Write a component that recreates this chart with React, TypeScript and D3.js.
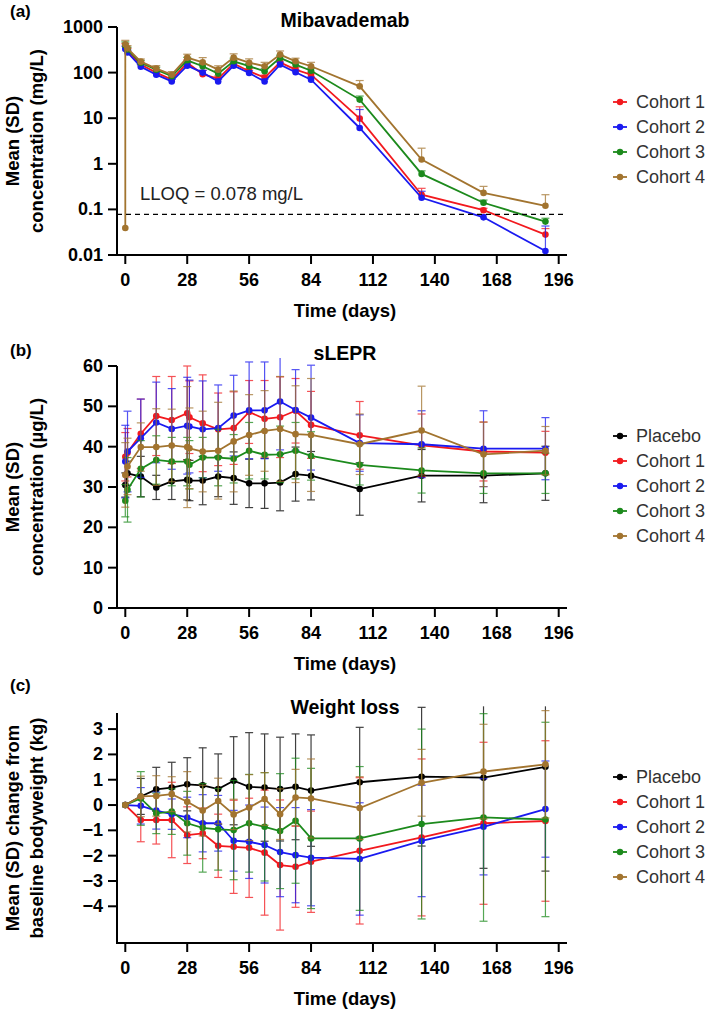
import React from 'react';
import * as d3 from 'd3';

// ---------- DATA ----------
const xTicks = [0, 28, 56, 84, 112, 140, 168, 196];

// Panel (a) Mibavademab concentration (mg/L)
const pkDays = [0, 1, 7, 14, 21, 28, 35, 42, 49, 56, 63, 70, 77, 84, 106, 134, 162, 190];
const pkCohort1 = [370, 300, 150, 100, 70, 165, 92, 74, 158, 107, 78, 168, 116, 90, 9.8, 0.21, 0.096, 0.028];
const pkCohort2 = [330, 275, 135, 90, 64, 142, 100, 64, 142, 98, 64, 150, 102, 70, 6.1, 0.18, 0.067, 0.0122];
const pkCohort3 = [400, 320, 165, 116, 83, 186, 138, 95, 177, 138, 107, 210, 150, 110, 25.6, 0.6, 0.14, 0.054];
const pkCohort4 = [420, 340, 174, 122, 90, 213, 168, 116, 213, 165, 138, 248, 177, 138, 50, 1.24, 0.23, 0.12];
const pkSd1 = [60, 40, 20, 12, 8, 25, 20, 10, 25, 15, 10, 25, 15, 12, 8, 0.08, 0.01, 0.01];
const pkSd2 = [50, 35, 15, 10, 7, 20, 12, 8, 20, 12, 8, 20, 12, 10, 9.4, 0.07, 0.01, 0.031];
const pkSd3 = [70, 40, 20, 15, 10, 30, 20, 15, 30, 20, 15, 30, 20, 15, 5, 0.1, 0.02, 0.01];
const pkSd4 = [90, 50, 25, 20, 15, 40, 45, 25, 45, 35, 30, 50, 30, 30, 17, 0.96, 0.09, 0.09];
const pkCohort4Predose = 0.039;
const lloq = 0.078;
const pkTicks = [0.01, 0.1, 1, 10, 100, 1000];
const pkTickLabels = ['0.01', '0.1', '1', '10', '100', '1000'];

// Panel (b) sLEPR (µg/L)
const bDays = [0, 1, 7, 14, 21, 28, 29, 35, 42, 49, 56, 63, 70, 77, 84, 106, 134, 162, 190];
const bPlacebo = [30.5, 33.4, 32.6, 29.9, 31.4, 31.8, 31.6, 31.6, 32.6, 32.2, 30.9, 30.9, 31.1, 33.2, 32.8, 29.5, 32.8, 32.8, 33.4];
const bCohort1 = [37.5, 38.5, 43.2, 47.6, 46.6, 48.3, 47.3, 45.8, 44.3, 44.6, 48.6, 46.9, 47.3, 48.9, 45.4, 42.8, 40.3, 38.8, 38.5];
const bCohort2 = [36.3, 38.8, 42.1, 46.0, 44.4, 45.2, 45.0, 44.3, 44.6, 47.7, 49.0, 49.0, 51.2, 49.1, 47.2, 40.9, 40.6, 39.5, 39.5];
const bCohort3 = [26.6, 29.3, 34.5, 36.7, 36.3, 36.3, 35.5, 37.3, 37.3, 37.0, 39.0, 38.0, 38.1, 39.0, 37.7, 35.5, 34.1, 33.4, 33.4];
const bCohort4 = [33.0, 35.1, 39.9, 39.9, 40.3, 39.9, 39.6, 38.8, 39.0, 41.3, 42.9, 43.9, 44.4, 43.1, 42.9, 40.6, 44.0, 38.1, 39.0];
const bSdP = [3, 3, 5, 3, 4.5, 5, 5, 6, 5, 6.5, 6, 6.2, 7, 6.7, 6, 6.5, 6.5, 6.7, 6.7];
const bSd1 = [6, 6, 8.6, 9.8, 10.8, 11.7, 9, 12, 9, 9, 7.8, 9.5, 10, 8, 8.3, 8.4, 7.8, 7.3, 5.3];
const bSd2 = [9, 10, 9.7, 10, 10, 12, 11.5, 12, 10.7, 10, 12, 12, 12, 10, 13, 7, 8.3, 9.4, 7.7];
const bSd3 = [4, 8, 7, 6, 6, 6, 6, 5, 7, 6, 7, 6, 7, 7, 6, 5, 5.6, 5, 5];
const bSd4 = [8, 7, 6, 9.5, 9, 15, 10, 10, 12, 12.5, 10, 10, 13, 12, 14, 7.5, 11, 8, 6];
const bTicks = [0, 10, 20, 30, 40, 50, 60];

// Panel (c) Weight change (kg)
const cDays = [0, 7, 14, 21, 28, 35, 42, 49, 56, 63, 70, 77, 84, 106, 134, 162, 190];
const cPlacebo = [0, 0.34, 0.62, 0.69, 0.82, 0.78, 0.63, 0.96, 0.72, 0.69, 0.63, 0.72, 0.57, 0.9, 1.12, 1.08, 1.51];
const cCohort1 = [0, -0.59, -0.59, -0.59, -1.19, -1.12, -1.61, -1.65, -1.69, -1.88, -2.37, -2.44, -2.24, -1.81, -1.28, -0.72, -0.63];
const cCohort2 = [0, -0.03, -0.22, -0.36, -0.49, -0.72, -0.72, -1.41, -1.45, -1.58, -1.86, -1.98, -2.08, -2.13, -1.42, -0.86, -0.16];
const cCohort3 = [0, 0.26, -0.33, -0.26, -0.72, -0.9, -0.96, -0.99, -0.72, -0.86, -1.03, -0.62, -1.32, -1.32, -0.75, -0.49, -0.57];
const cCohort4 = [0, 0.34, 0.36, 0.43, 0.13, -0.22, 0.16, -0.37, -0.1, 0.24, -0.36, 0.3, 0.26, -0.12, 0.88, 1.32, 1.61];
const cSdP = [0, 0.71, 0.87, 1.0, 1.05, 1.48, 1.39, 1.74, 2.14, 2.12, 2.05, 2.09, 2.2, 2.17, 2.74, 3.58, 4.12];
const cSd1 = [0, 0.86, 0.95, 1.49, 1.12, 1.0, 1.25, 1.84, 1.96, 2.47, 2.57, 1.6, 2.0, 2.89, 3.1, 3.2, 3.17];
const cSd2 = [0, 0.72, 0.73, 0.6, 0.8, 1.13, 1.1, 1.2, 1.45, 1.5, 1.76, 1.88, 1.9, 2.22, 2.2, 1.9, 1.9];
const cSd3 = [0, 1.06, 0.8, 0.9, 1.26, 1.75, 1.61, 1.96, 1.93, 2.14, 2.27, 2.47, 2.77, 2.84, 3.75, 4.1, 3.84];
const cSd4 = [0, 0.8, 0.8, 0.69, 1.19, 1.0, 0.9, 0.6, 1.3, 1.04, 1.0, 1.11, 1.56, 1.24, 1.32, 1.87, 2.12];
const cTicks = [-4, -3, -2, -1, 0, 1, 2, 3];

const cohortNames = ['Placebo', 'Cohort 1', 'Cohort 2', 'Cohort 3', 'Cohort 4'];

// ---------- STYLE ----------
const COLORS: Record<string, string> = {
  'Placebo': '#000000',
  'Cohort 1': '#f2191e',
  'Cohort 2': '#1a1af0',
  'Cohort 3': '#1c8a1c',
  'Cohort 4': '#a2742f',
};
const FONT = '"Liberation Sans", Arial, Helvetica, sans-serif';
const AXIS_X = 117;
const AXIS_END = 567;
const LEG_X = 613;

const xScale = d3.scaleLinear().domain([0, 196]).range([125.3, 558.7]);

type Series = {
  name: string;
  days: number[];
  values: number[];
  sd: number[];
  sdOffset?: number;
};

type PanelProps = {
  tag: string;
  tagY: number;
  title: string;
  titleY: number;
  y: any;
  top: number;
  bottom: number;
  ticks: number[];
  tickLabels: string[];
  yLabel: string[];
  series: Series[];
  upperOnly?: boolean;
  clampMin: number;
  clampMax: number;
  legend: string[];
  legendY0: number;
};

function Panel(p: PanelProps) {
  const midY = (p.top + p.bottom) / 2;
  const line = d3
    .line<[number, number]>()
    .x((d) => xScale(d[0]))
    .y((d) => p.y(d[1]));
  return (
    <g>
      <text x={10} y={p.tagY} fontFamily={FONT} fontWeight="bold" fontSize={17} dominantBaseline="central">
        {p.tag}
      </text>
      <text x={345} y={p.titleY} fontFamily={FONT} fontWeight="bold" fontSize={19.5} textAnchor="middle" dominantBaseline="central">
        {p.title}
      </text>
      {p.yLabel.map((t, i) => (
        <text
          key={t}
          transform={`translate(${12 + i * 24},${midY}) rotate(-90)`}
          fontFamily={FONT}
          fontWeight="bold"
          fontSize={18.5}
          textAnchor="middle"
          dominantBaseline="central"
        >
          {t}
        </text>
      ))}
      {/* axes */}
      <line x1={AXIS_X} x2={AXIS_X} y1={p.top} y2={p.bottom + 1} stroke="#000" strokeWidth={2} />
      <line x1={AXIS_X - 1} x2={AXIS_END} y1={p.bottom} y2={p.bottom} stroke="#000" strokeWidth={2} />
      {p.ticks.map((t, i) => (
        <g key={'yt' + i}>
          <line x1={AXIS_X - 9} x2={AXIS_X} y1={p.y(t)} y2={p.y(t)} stroke="#000" strokeWidth={2} />
          <text x={AXIS_X - 14} y={p.y(t)} fontFamily={FONT} fontWeight="bold" fontSize={18} textAnchor="end" dominantBaseline="central">
            {p.tickLabels[i]}
          </text>
        </g>
      ))}
      {xTicks.map((t) => (
        <g key={'xt' + t}>
          <line x1={xScale(t)} x2={xScale(t)} y1={p.bottom} y2={p.bottom + 9} stroke="#000" strokeWidth={2} />
          <text x={xScale(t)} y={p.bottom + 25} fontFamily={FONT} fontWeight="bold" fontSize={18} textAnchor="middle" dominantBaseline="central">
            {t}
          </text>
        </g>
      ))}
      <text x={345} y={p.bottom + 55} fontFamily={FONT} fontWeight="bold" fontSize={18.5} textAnchor="middle" dominantBaseline="central">
        Time (days)
      </text>
      {/* series */}
      {p.series.map((s) => {
        const c = COLORS[s.name];
        const off = s.sdOffset || 0;
        const pts: [number, number][] = s.days.map((d, i) => [d, s.values[i]]);
        return (
          <g key={s.name}>
            {s.sd.map((sd, j) => {
              const i = j + off;
              if (!sd) return null;
              const m = s.values[i];
              const x = xScale(s.days[i]);
              const hi = Math.min(m + sd, p.clampMax);
              const lo = p.upperOnly ? m : Math.max(m - sd, p.clampMin);
              const yHi = p.y(hi);
              const yLo = p.y(lo);
              return (
                <g key={j} stroke={c} strokeWidth={1.2} opacity={0.75}>
                  <line x1={x} x2={x} y1={yHi} y2={yLo} />
                  {m + sd <= p.clampMax && <line x1={x - 4} x2={x + 4} y1={yHi} y2={yHi} />}
                  {!p.upperOnly && m - sd >= p.clampMin && <line x1={x - 4} x2={x + 4} y1={yLo} y2={yLo} />}
                </g>
              );
            })}
            <path d={line(pts) || ''} fill="none" stroke={c} strokeWidth={1.8} />
            {pts.map((d, i) => (
              <circle key={i} cx={xScale(d[0])} cy={p.y(d[1])} r={3.3} fill={c} />
            ))}
          </g>
        );
      })}
      {/* legend */}
      {p.legend.map((n, i) => {
        const ly = p.legendY0 + i * 25;
        return (
          <g key={'lg' + n}>
            <line x1={LEG_X} x2={LEG_X + 14} y1={ly} y2={ly} stroke={COLORS[n]} strokeWidth={1.8} />
            <circle cx={LEG_X + 7} cy={ly} r={3.2} fill={COLORS[n]} />
            <text x={LEG_X + 23} y={ly} fontFamily={FONT} fontSize={18} fill="#333" dominantBaseline="central">
              {n}
            </text>
          </g>
        );
      })}
    </g>
  );
}

export default function App() {
  const yA = d3.scaleLog().domain([0.01, 1000]).range([255, 27]);
  const yB = d3.scaleLinear().domain([0, 60]).range([608, 366]);
  const yC = d3.scaleLinear().domain([-5.45, 3.636]).range([943, 713]);

  const aSeries: Series[] = [
    { name: 'Cohort 1', days: pkDays, values: pkCohort1, sd: pkSd1 },
    { name: 'Cohort 2', days: pkDays, values: pkCohort2, sd: pkSd2 },
    { name: 'Cohort 3', days: pkDays, values: pkCohort3, sd: pkSd3 },
    { name: 'Cohort 4', days: [0, ...pkDays], values: [pkCohort4Predose, ...pkCohort4], sd: pkSd4, sdOffset: 1 },
  ];
  const bSeries: Series[] = [
    { name: 'Placebo', days: bDays, values: bPlacebo, sd: bSdP },
    { name: 'Cohort 1', days: bDays, values: bCohort1, sd: bSd1 },
    { name: 'Cohort 2', days: bDays, values: bCohort2, sd: bSd2 },
    { name: 'Cohort 3', days: bDays, values: bCohort3, sd: bSd3 },
    { name: 'Cohort 4', days: bDays, values: bCohort4, sd: bSd4 },
  ];
  const cSeries: Series[] = [
    { name: 'Placebo', days: cDays, values: cPlacebo, sd: cSdP },
    { name: 'Cohort 1', days: cDays, values: cCohort1, sd: cSd1 },
    { name: 'Cohort 2', days: cDays, values: cCohort2, sd: cSd2 },
    { name: 'Cohort 3', days: cDays, values: cCohort3, sd: cSd3 },
    { name: 'Cohort 4', days: cDays, values: cCohort4, sd: cSd4 },
  ];

  return (
    <div style={{ position: 'absolute', left: 0, top: 0 }}>
      <svg width={709} height={1012} style={{ display: 'block', background: '#fff' }}>
        <Panel
          tag="(a)"
          tagY={11}
          title="Mibavademab"
          titleY={20}
          y={yA}
          top={27}
          bottom={255}
          ticks={pkTicks}
          tickLabels={pkTickLabels}
          yLabel={['Mean (SD)', 'concentration (mg/L)']}
          series={aSeries}
          upperOnly
          clampMin={0.01}
          clampMax={1000}
          legend={cohortNames.slice(1)}
          legendY0={102}
        />
        <line x1={AXIS_X} x2={AXIS_END} y1={yA(lloq)} y2={yA(lloq)} stroke="#000" strokeWidth={1.2} strokeDasharray="5,4" />
        <text x={140} y={193} fontFamily={FONT} fontSize={18.5} fill="#222" dominantBaseline="central">
          LLOQ = 0.078 mg/L
        </text>
        <Panel
          tag="(b)"
          tagY={350}
          title="sLEPR"
          titleY={353}
          y={yB}
          top={366}
          bottom={608}
          ticks={bTicks}
          tickLabels={bTicks.map((t) => String(t))}
          yLabel={['Mean (SD)', 'concentration (µg/L)']}
          series={bSeries}
          clampMin={0}
          clampMax={62}
          legend={cohortNames}
          legendY0={436}
        />
        <Panel
          tag="(c)"
          tagY={685}
          title="Weight loss"
          titleY={707}
          y={yC}
          top={713}
          bottom={943}
          ticks={cTicks}
          tickLabels={cTicks.map((t) => (t < 0 ? '\u2212' + Math.abs(t) : String(t)))}
          yLabel={['Mean (SD) change from', 'baseline bodyweight (kg)']}
          series={cSeries}
          clampMin={-5.45}
          clampMax={3.9}
          legend={cohortNames}
          legendY0={777}
        />
      </svg>
    </div>
  );
}
